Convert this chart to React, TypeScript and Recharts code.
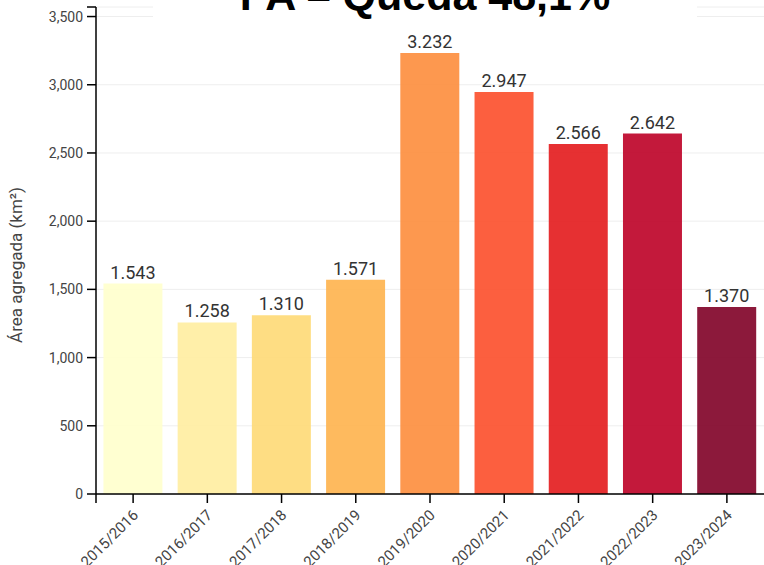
import React from 'react';
import { BarChart, Bar, XAxis, YAxis, CartesianGrid, Cell, LabelList } from 'recharts';

const categories = ['2015/2016', '2016/2017', '2017/2018', '2018/2019', '2019/2020', '2020/2021', '2021/2022', '2022/2023', '2023/2024'];
const areaValues = [1543, 1258, 1310, 1571, 3232, 2947, 2566, 2642, 1370];
const palette = ['#ffffcc', '#ffeda0', '#fed976', '#feb24c', '#fd8d3c', '#fc4e2a', '#e31a1c', '#bd0026', '#800026'];
const yTicks = [0, 500, 1000, 1500, 2000, 2500, 3000, 3500];
const title = 'PA – Queda 48,1%';
const yLabel = 'Área agregada (km²)';

const data = categories.map((c, i) => ({ name: c, value: areaValues[i] }));

const dotFmt = (v: number) => String(v).replace(/\B(?=(\d{3})+(?!\d))/g, '.');
const commaFmt = (v: number) => String(v).replace(/\B(?=(\d{3})+(?!\d))/g, ',');

const FONT = 'Roboto, Arial, sans-serif';

const XTick = (props: any) => {
  const { x, y, payload } = props;
  return (
    <g transform={`translate(${x + 6},${y + 11})`}>
      <text transform="rotate(-45)" textAnchor="end" fontSize={15} fill="#444" fontFamily={FONT}>
        {payload.value}
      </text>
    </g>
  );
};

export default function App() {
  return (
    <div style={{ position: 'absolute', left: 0, top: 0, width: 764, height: 565, background: '#fff' }}>
      <BarChart width={764} height={565} data={data} margin={{ top: 7, right: 0, left: 0, bottom: 0 }} barCategoryGap="10%">
        <CartesianGrid vertical={false} stroke="#eeeeee" />
        <XAxis
          dataKey="name"
          height={71}
          tickSize={9}
          tick={<XTick />}
          axisLine={{ stroke: '#000', strokeWidth: 1.5 }}
          tickLine={{ stroke: '#000', strokeWidth: 1.5 }}
          interval={0}
        />
        <YAxis
          width={96}
          domain={[0, 3570]}
          ticks={yTicks}
          tickFormatter={commaFmt}
          tickSize={9}
          tickMargin={4}
          tick={{ fontSize: 14, fill: '#444', fontFamily: FONT }}
          axisLine={{ stroke: '#000', strokeWidth: 1.5 }}
          tickLine={{ stroke: '#000', strokeWidth: 1.5 }}
          allowDataOverflow
        />
        <Bar dataKey="value" isAnimationActive={false} fillOpacity={0.9}>
          {data.map((d, i) => (
            <Cell key={d.name} fill={palette[i]} />
          ))}
          <LabelList dataKey="value" position="top" formatter={(v: any) => dotFmt(v)} fontSize={18} fill="#333" fontFamily={FONT} />
        </Bar>
      </BarChart>
      <svg width={764} height={565} style={{ position: 'absolute', left: 0, top: 0, pointerEvents: 'none' }}>
        <rect x={153} y={0} width={544} height={20} fill="#fff" />
        <text x={425} y={10} textAnchor="middle" fontSize={43} fontWeight="bold" fill="#000" fontFamily="'Liberation Sans', Arial, sans-serif">
          {title}
        </text>
        <line x1={87} y1={7} x2={96} y2={7} stroke="#000" strokeWidth={1.5} />
        <line x1={96} y1={494} x2={96} y2={503} stroke="#000" strokeWidth={1.5} />
        <text transform="translate(22,265) rotate(-90)" textAnchor="middle" fontSize={17} fill="#444" fontFamily={FONT}>
          {yLabel}
        </text>
      </svg>
    </div>
  );
}
